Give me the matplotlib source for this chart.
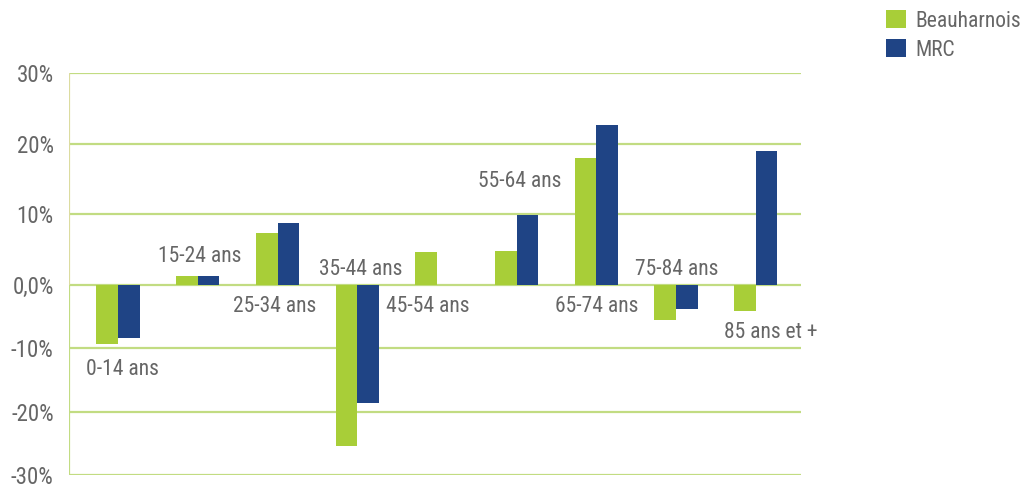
import matplotlib
matplotlib.use("Agg")
import matplotlib.pyplot as plt
from matplotlib import font_manager
from matplotlib.patches import Patch
import numpy as np

# ---- data ----
categories = ["0-14 ans", "15-24 ans", "25-34 ans", "35-44 ans", "45-54 ans",
              "55-64 ans", "65-74 ans", "75-84 ans", "85 ans et +"]
beauharnois = [-9.3, 1.3, 7.4, -25.4, 4.7, 4.8, 17.9, -5.6, -4.2]
mrc = [-8.4, 1.3, 8.7, -18.6, 0.0, 9.9, 22.7, -3.8, 19.0]
series_names = ["Beauharnois", "MRC"]
y_ticks = [-30, -20, -10, 0, 10, 20, 30]
y_tick_labels = ["-30%", "-20%", "-10%", "0,0%", "10%", "20%", "30%"]

# label positions (x in category units, baseline y in data units)
label_pos = [(0.05, -14.3), (1.02, 3.3), (1.96, -4.3), (3.04, 1.4), (3.88, -4.3),
             (5.04, 13.9), (6.01, -4.3), (7.01, 1.4), (8.19, -8.4)]

# ---- font ----
avail = {f.name for f in font_manager.fontManager.ttflist}
fam = "DejaVu Sans"
for cand in ["Roboto Condensed", "Liberation Sans Narrow", "DejaVu Sans Condensed", "Roboto"]:
    if cand in avail:
        fam = cand
        break
plt.rcParams["font.family"] = [fam, "DejaVu Sans"]

text_color = "#666666"
green = "#a8ce38"
blue = "#1f4485"
grid_color = "#c2dc82"
spine_top_color = "#dcdca0"

NEG = 0.898


def fwd(y):
    y = np.asarray(y, dtype=float)
    return np.where(y >= 0, y, y * NEG)


def inv(y):
    y = np.asarray(y, dtype=float)
    return np.where(y >= 0, y, y / NEG)


fig = plt.figure(figsize=(10.24, 4.86), dpi=100)
ax = fig.add_axes([69 / 1024, 11 / 486, 732 / 1024, 402 / 486])
ax.set_yscale("function", functions=(fwd, inv))

x = np.arange(len(categories))
w = 0.272
ax.bar(x - w / 2, beauharnois, width=w, color=green, zorder=3)
ax.bar(x + w / 2, mrc, width=w, color=blue, zorder=3)

ax.set_xlim(-0.616, 8.568)
ax.set_ylim(-30, 30)
ax.set_yticks(y_ticks)
ax.set_yticklabels(y_tick_labels)
ax.set_xticks([])
ax.tick_params(axis="y", length=0, pad=11, labelsize=16.5, labelcolor=text_color)

for s in ax.spines.values():
    s.set_visible(False)

for t in y_ticks:
    ax.axhline(t, color=grid_color, lw=1.6, zorder=1)

xl = ax.get_xlim()[0]
ax.vlines(xl, 0, 30, color=spine_top_color, lw=1.6, zorder=2)
ax.vlines(xl, -30, 0, color=grid_color, lw=1.6, zorder=2)

for (lx, ly), name in zip(label_pos, categories):
    ax.text(lx, ly, name, ha="center", va="baseline", fontsize=15.5,
            color=text_color, zorder=4)

handles = [Patch(facecolor=green, edgecolor="none"), Patch(facecolor=blue, edgecolor="none")]
fig.legend(handles, series_names, loc="upper left",
           bbox_to_anchor=(880 / 1024, 1 - 4 / 486), frameon=False,
           fontsize=15.5, labelcolor=text_color, handlelength=0.9,
           handleheight=0.9, handletextpad=0.45, labelspacing=0.35,
           borderaxespad=0, borderpad=0.3)

fig.savefig("out.png", dpi=100)
